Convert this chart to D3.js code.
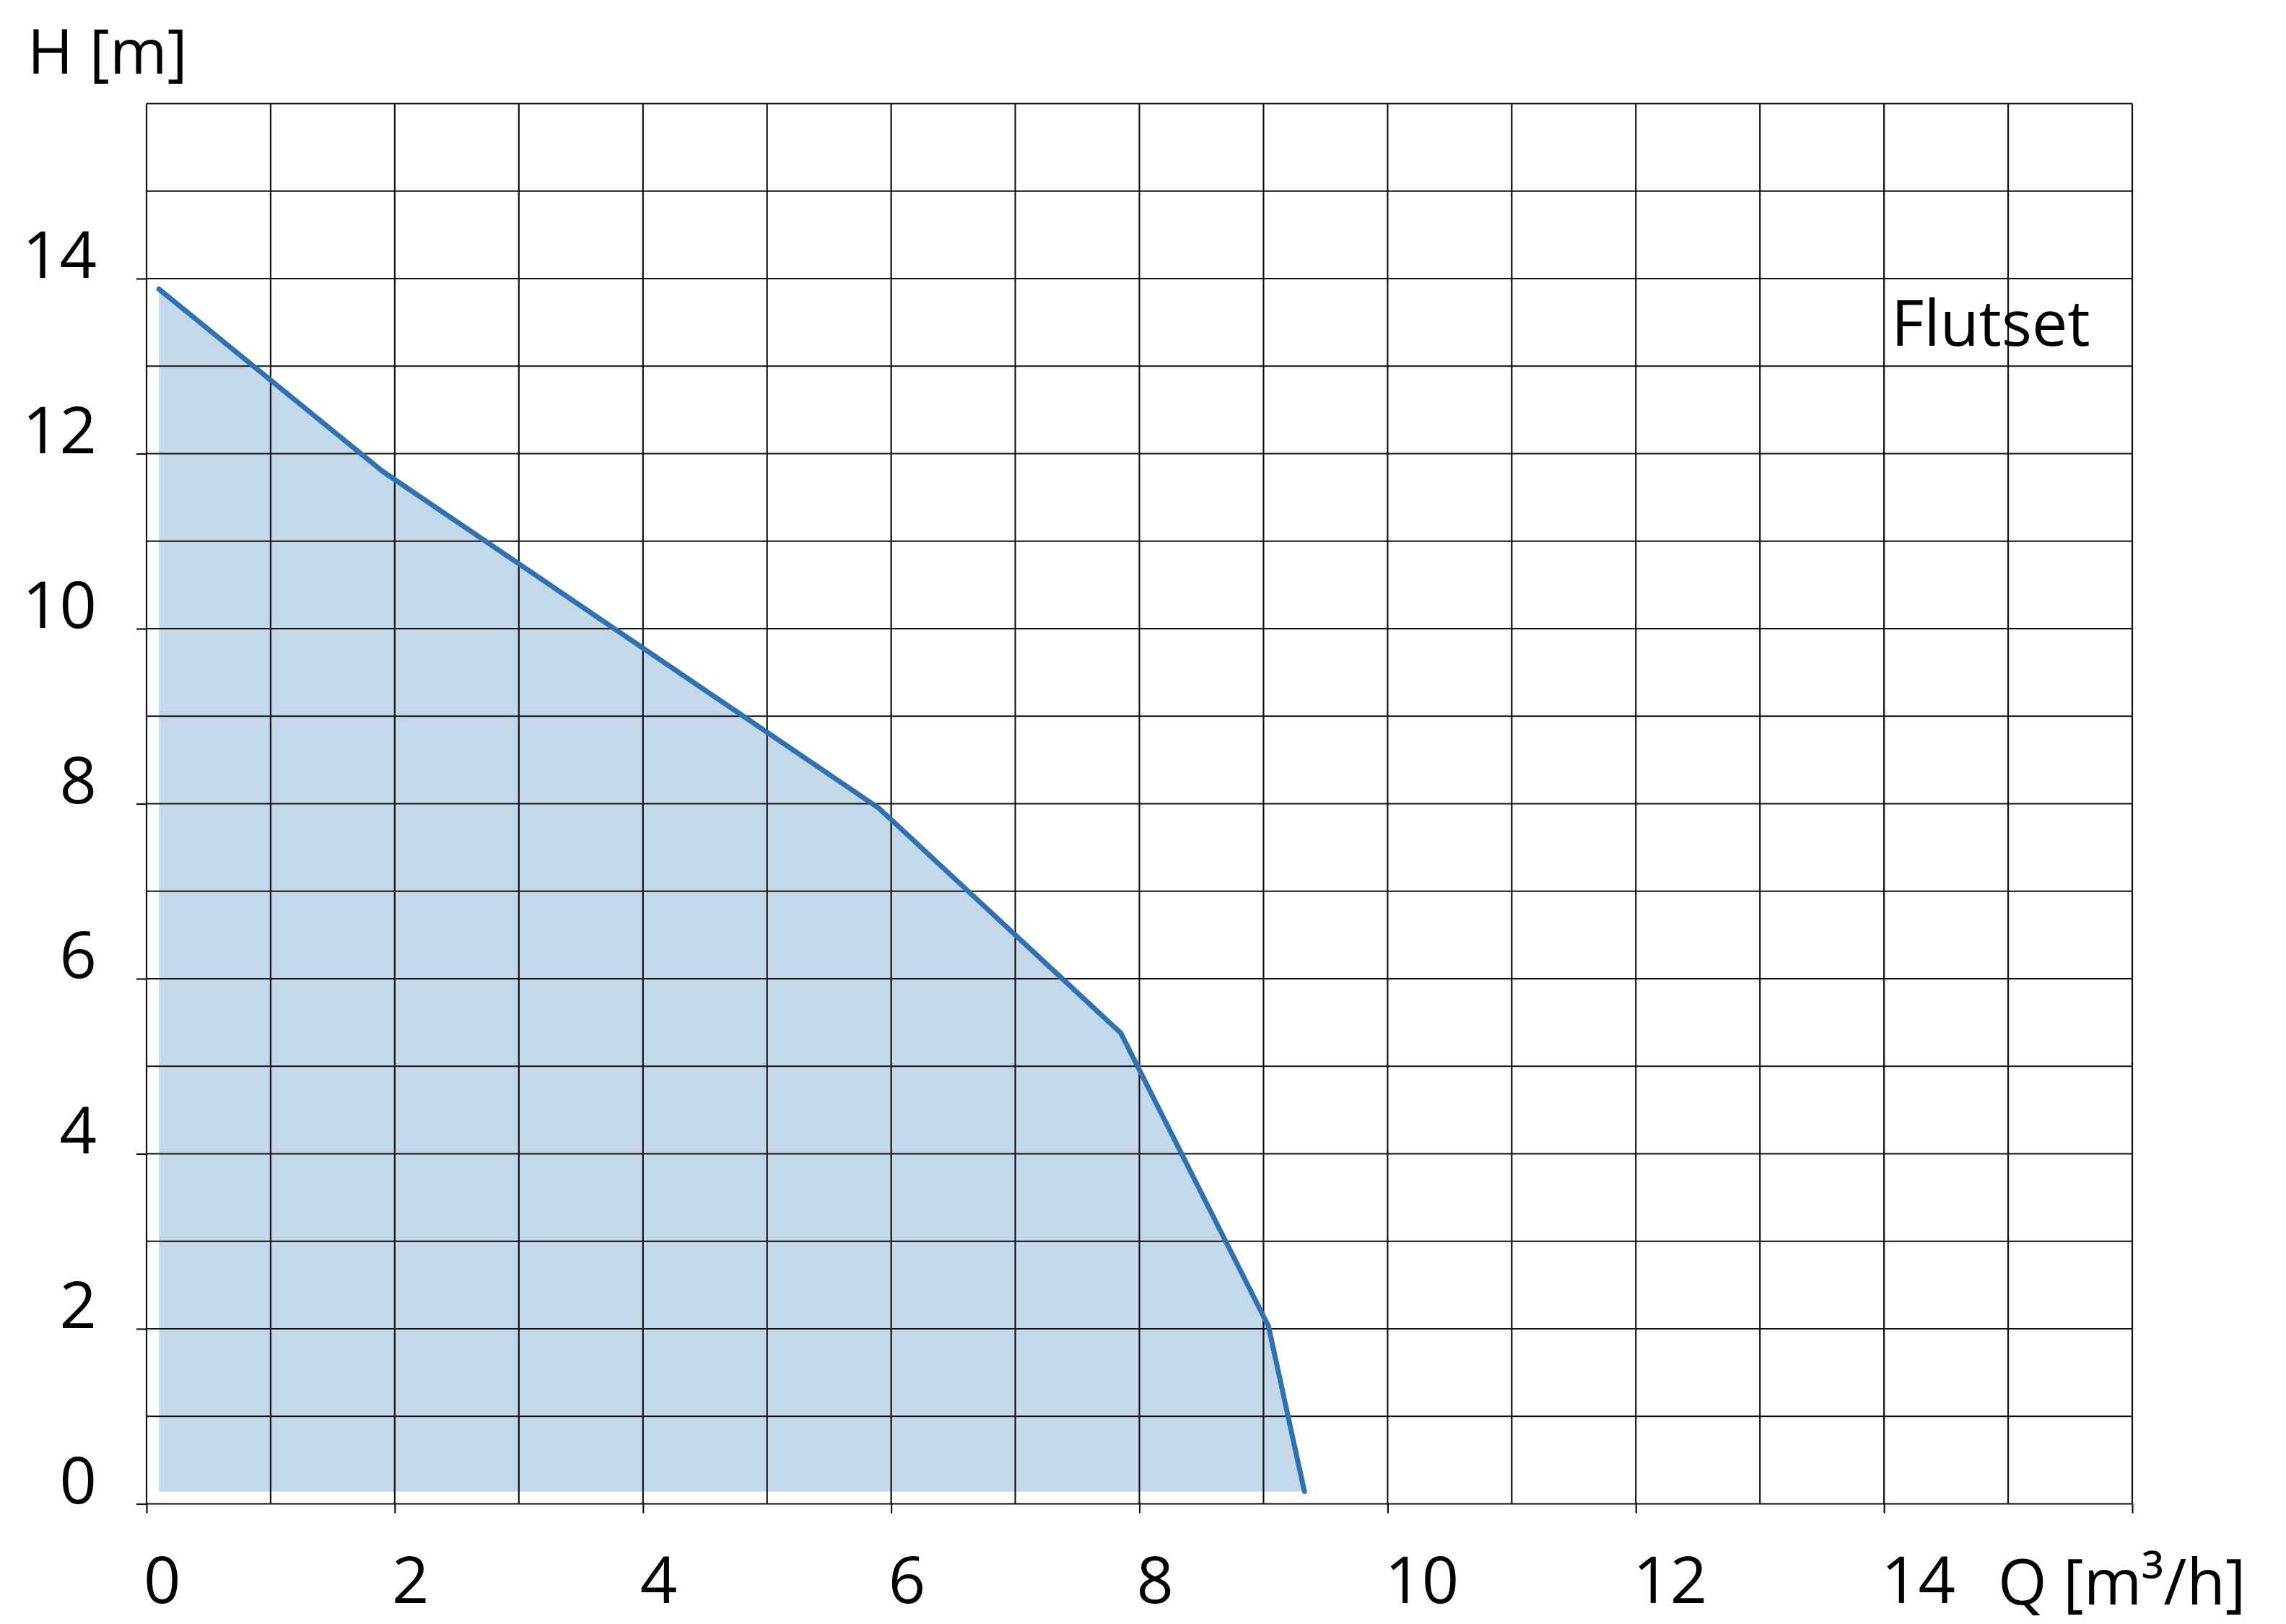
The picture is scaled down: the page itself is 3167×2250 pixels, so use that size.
<!DOCTYPE html>
<html>
<head>
<meta charset="utf-8">
<script src="https://cdn.jsdelivr.net/npm/d3@7"></script>
<style>
  html, body { margin: 0; padding: 0; background: #fff; }
  text { font-family: "Open Sans", "Noto Sans", sans-serif; fill: #000; }
</style>
</head>
<body>
<div id="chart"></div>
<script>
// Pump curve
const flow = [0.1, 1.9, 5.9, 7.85, 9.04, 9.33];   // Q [m3/h]
const head = [13.88, 11.8, 7.95, 5.38, 2.03, 0.14]; // H [m]
const fillBase = 0.14;

const gridSteps = d3.range(0, 17);          // one grid line per unit
const xTickMarks = [0, 2, 4, 6, 8, 10, 12, 14, 16];
const xTickLabels = [0, 2, 4, 6, 8, 10, 12, 14];
const yTickMarks = [0, 2, 4, 6, 8, 10, 12, 14];
const yTickLabels = [0, 2, 4, 6, 8, 10, 12, 14];

const seriesName = 'Flutset';
const xTitle = 'Q [m³/h]';
const yTitle = 'H [m]';

const width = 3167;
const height = 2250;
const margin = { top: 143.5, right: 213, bottom: 166.5, left: 203 };

const svg = d3.select('#chart')
  .append('svg')
  .attr('width', width)
  .attr('height', height);

const xScale = d3.scaleLinear()
  .domain([0, 16])
  .range([margin.left, width - margin.right]);

const yScale = d3.scaleLinear()
  .domain([0, 16])
  .range([height - margin.bottom, margin.top]);

const points = flow.map((q, i) => ({ q, h: head[i] }));

// Shaded operating area under the curve
const area = d3.area()
  .x(d => xScale(d.q))
  .y0(yScale(fillBase))
  .y1(d => yScale(d.h));

svg.append('path')
  .datum(points)
  .attr('d', area)
  .attr('fill', '#c3d8ea');

// Grid
const grid = svg.append('g')
  .attr('stroke', '#111')
  .attr('stroke-width', 2.2);

grid.selectAll('.vline')
  .data(gridSteps)
  .enter()
  .append('line')
  .attr('class', 'vline')
  .attr('x1', d => xScale(d))
  .attr('x2', d => xScale(d))
  .attr('y1', yScale(0))
  .attr('y2', yScale(16));

grid.selectAll('.hline')
  .data(gridSteps)
  .enter()
  .append('line')
  .attr('class', 'hline')
  .attr('x1', xScale(0))
  .attr('x2', xScale(16))
  .attr('y1', d => yScale(d))
  .attr('y2', d => yScale(d));

// Tick marks outside the frame
const xAxis = svg.append('g')
  .attr('transform', `translate(0,${yScale(0)})`)
  .call(d3.axisBottom(xScale).tickValues(xTickMarks).tickSize(13).tickFormat(''));

const yAxis = svg.append('g')
  .attr('transform', `translate(${xScale(0)},0)`)
  .call(d3.axisLeft(yScale).tickValues(yTickMarks).tickSize(14).tickFormat(''));

[xAxis, yAxis].forEach(ax => {
  ax.select('.domain').remove();
  ax.selectAll('.tick line').attr('stroke', '#111').attr('stroke-width', 2.2);
});

// Tick labels
svg.selectAll('.xlabel')
  .data(xTickLabels)
  .enter()
  .append('text')
  .attr('class', 'xlabel')
  .attr('x', d => xScale(d) - 4)
  .attr('y', 2221)
  .attr('text-anchor', 'start')
  .style('font-size', '90px')
  .text(d => d);

svg.selectAll('.ylabel')
  .data(yTickLabels)
  .enter()
  .append('text')
  .attr('class', 'ylabel')
  .attr('x', 134)
  .attr('y', d => yScale(d) - 1)
  .attr('text-anchor', 'end')
  .style('font-size', '90px')
  .text(d => d);

// Curve
const line = d3.line()
  .x(d => xScale(d.q))
  .y(d => yScale(d.h));

svg.append('path')
  .datum(points)
  .attr('d', line)
  .attr('fill', 'none')
  .attr('stroke', '#2f71b1')
  .attr('stroke-width', 7)
  .attr('stroke-linejoin', 'round')
  .attr('stroke-linecap', 'round');

// Titles
svg.append('text')
  .attr('x', 38)
  .attr('y', 102)
  .style('font-size', '86px')
  .text(yTitle);

svg.append('text')
  .attr('x', 2768)
  .attr('y', 2223)
  .style('font-size', '87px')
  .text(xTitle);

svg.append('text')
  .attr('x', 2620)
  .attr('y', 479)
  .style('font-size', '88px')
  .text(seriesName);
</script>
</body>
</html>
